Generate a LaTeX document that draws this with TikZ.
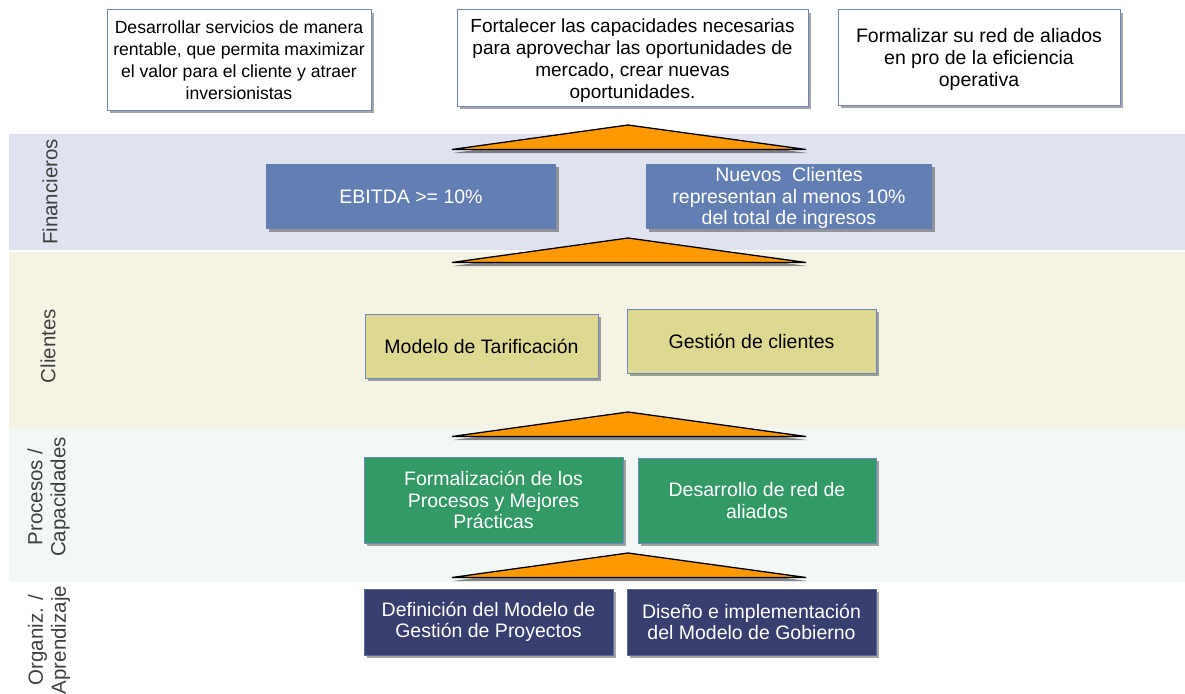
\documentclass[tikz,border=0pt]{standalone}
\usepackage{fontspec}
\setmainfont{Liberation Sans}
\usetikzlibrary{shadows}
\definecolor{bandF}{RGB}{223,227,239}
\definecolor{bandC}{RGB}{245,244,228}
\definecolor{bandP}{RGB}{242,248,246}
\definecolor{finfill}{RGB}{99,126,178}
\definecolor{clifill}{RGB}{221,217,145}
\definecolor{profill}{RGB}{51,153,102}
\definecolor{orgfill}{RGB}{56,63,110}
\definecolor{bordblue}{RGB}{110,135,190}
\definecolor{orgbord}{RGB}{90,105,160}
\definecolor{labgray}{RGB}{64,64,64}
\definecolor{arrorange}{RGB}{255,153,0}
\newcommand{\topstrut}[1]{\rule{0pt}{#1}}
\tikzset{
  boxshadow/.style={drop shadow={shadow xshift=2.5pt,shadow yshift=-3pt,fill=black,opacity=0.35}},
  goalbox/.style={draw=bordblue,line width=1pt,fill=white,boxshadow,align=center,inner sep=0pt,
    font=\fontsize{19}{22}\selectfont,text=black},
  finbox/.style={fill=finfill,boxshadow,align=center,inner sep=0pt,text=white,
    font=\fontsize{19.5}{21.5}\selectfont},
  clibox/.style={draw=bordblue,line width=1pt,fill=clifill,boxshadow,align=center,inner sep=0pt,text=black,
    font=\fontsize{19.5}{21.5}\selectfont},
  probox/.style={draw=bordblue,line width=1pt,fill=profill,boxshadow,align=center,inner sep=0pt,text=white,
    font=\fontsize{19.5}{21.5}\selectfont},
  orgbox/.style={draw=orgbord,line width=1pt,fill=orgfill,boxshadow,align=center,inner sep=0pt,text=white,
    font=\fontsize{19.5}{21.5}\selectfont},
  sidelab/.style={rotate=90,align=center,text=labgray,inner sep=0pt,font=\fontsize{20.5}{23}\selectfont},
  uparrow/.style={draw=black,line width=1.3pt,fill=arrorange,line join=miter,
    drop shadow={shadow xshift=1pt,shadow yshift=-3.5pt,fill=black,opacity=0.45}}
}
\begin{document}
\begin{tikzpicture}[x=1pt,y=-1pt]
\useasboundingbox (0,0) rectangle (1185,693);
\clip (0,0) rectangle (1185,693);
% bands
\fill[bandF] (9,134) rectangle (1185,250);
\fill[bandC] (9,252) rectangle (1185,429);
\fill[bandP] (9,429) rectangle (1185,582);
% side labels
\node[sidelab] (lfin) at (50,192) {Financieros};
\node[sidelab] (lcli) at (48,346) {Clientes};
\node[sidelab] (lpro) at (48.5,497) {Procesos /\\Capacidades};
\node[sidelab] (lorg) at (49,640) {Organiz. /\\Aprendizaje};
% triangles
\foreach \ay in {125,238,412,553}{
  \path[uparrow] (628,\ay) -- (806,\ay+24.5) -- (452,\ay+24.5) -- cycle;
}
% top goal boxes
\node[goalbox,minimum width=264pt,minimum height=100pt,font=\fontsize{17.6}{22}\selectfont] (g1) at (239,60)
  {Desarrollar servicios de manera\\rentable, que permita maximizar\\el valor para el cliente y atraer\\inversionistas};
\node[goalbox,minimum width=351pt,minimum height=96pt] (g2) at (632.5,58)
  {\topstrut{18pt}Fortalecer las capacidades necesarias\\para aprovechar las oportunidades de\\mercado, crear nuevas\\oportunidades.};
\node[goalbox,minimum width=282pt,minimum height=95pt,font=\fontsize{19.5}{22}\selectfont] (g3) at (979,57.5)
  {\topstrut{19pt}Formalizar su red de aliados\\en pro de la eficiencia\\operativa};
% financial
\node[finbox,minimum width=290pt,minimum height=65pt] (f1) at (411,196.5) {EBITDA >= 10\%};
\node[finbox,minimum width=286pt,minimum height=65pt] (f2) at (789,196.5)
  {\topstrut{18pt}Nuevos\ \ Clientes\\representan al menos 10\%\\del total de ingresos};
% clients
\node[clibox,minimum width=233pt,minimum height=64pt] (c1) at (481.5,346) {Modelo de Tarificación};
\node[clibox,minimum width=249pt,minimum height=64pt] (c2) at (751.5,341) {Gestión de clientes};
% processes
\node[probox,minimum width=259pt,minimum height=86pt] (p1) at (493.5,500)
  {Formalización de los\\Procesos y Mejores\\Prácticas};
\node[probox,minimum width=238pt,minimum height=85pt] (p2) at (757,500.5)
  {Desarrollo de red de\\aliados};
% organization
\node[orgbox,minimum width=249pt,minimum height=66pt] (o1) at (488.5,622)
  {Definición del Modelo de\\Gestión de Proyectos};
\node[orgbox,minimum width=249pt,minimum height=66pt] (o2) at (751.5,622)
  {Diseño e implementación\\del Modelo de Gobierno};
\end{tikzpicture}
\end{document}
